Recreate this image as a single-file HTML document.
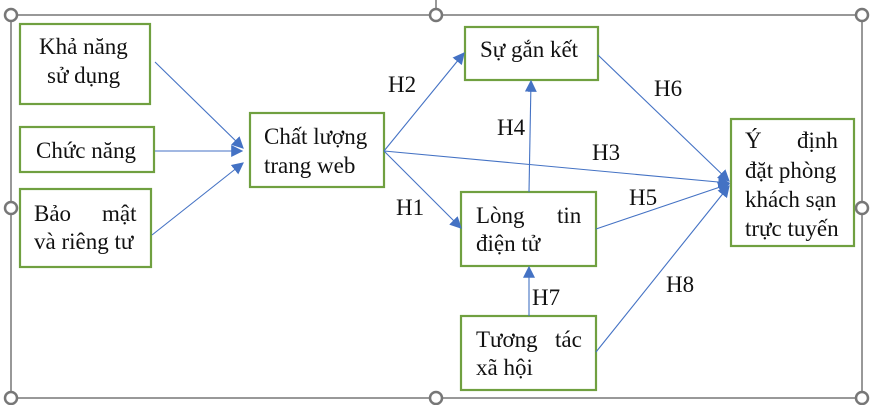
<!DOCTYPE html>
<html><head><meta charset="utf-8"><style>
body{margin:0;background:#fff;width:870px;height:405px;overflow:hidden}
svg{display:block}
text{font-family:"Liberation Serif",serif;font-size:23px;fill:#111}
.b{fill:#fff;stroke:#70a040;stroke-width:2.2}
.l{stroke:#4472c4;stroke-width:1.1;fill:none}
.h{fill:#fff;stroke:#777;stroke-width:2.5}
</style></head><body>
<svg width="870" height="405" viewBox="0 0 870 405">
<defs><marker id="a" viewBox="0 0 10 10" refX="9" refY="5" markerWidth="12" markerHeight="12" markerUnits="userSpaceOnUse" orient="auto"><path d="M0,0L10,5L0,10z" fill="#4472c4"/></marker></defs>
<line x1="436" y1="0" x2="436" y2="15" stroke="#777" stroke-width="1.5"/>
<rect x="11" y="15" width="851" height="383" fill="none" stroke="#777" stroke-width="1.5"/>
<rect class="b" x="20" y="24" width="130" height="80"/>
<rect class="b" x="20" y="127" width="134" height="45"/>
<rect class="b" x="20" y="189" width="131" height="78"/>
<rect class="b" x="250" y="113" width="134" height="74"/>
<rect class="b" x="465" y="27" width="133" height="53"/>
<rect class="b" x="461" y="192" width="135" height="74"/>
<rect class="b" x="461" y="316" width="135" height="74"/>
<rect class="b" x="731" y="119" width="123" height="127"/>
<g class="l">
<line x1="155" y1="62" x2="243" y2="148" marker-end="url(#a)"/>
<line x1="155" y1="151" x2="242" y2="151" marker-end="url(#a)"/>
<line x1="152" y1="235" x2="243" y2="163" marker-end="url(#a)"/>
<line x1="384" y1="151" x2="464" y2="53" marker-end="url(#a)"/>
<line x1="384" y1="151" x2="729" y2="183" marker-end="url(#a)"/>
<line x1="384" y1="151" x2="461" y2="228" marker-end="url(#a)"/>
<line x1="529" y1="192" x2="531" y2="81" marker-end="url(#a)"/>
<line x1="598" y1="55" x2="729" y2="181" marker-end="url(#a)"/>
<line x1="596" y1="229" x2="729" y2="184" marker-end="url(#a)"/>
<line x1="529" y1="316" x2="529" y2="267" marker-end="url(#a)"/>
<line x1="596" y1="352" x2="729" y2="186" marker-end="url(#a)"/>
</g>
<text x="39" y="54">Khả năng</text>
<text x="47" y="83">sử dụng</text>
<text x="36" y="158">Chức năng</text>
<text x="34" y="221">Bảo</text><text x="102" y="221">mật</text>
<text x="34" y="249">và riêng tư</text>
<text x="264" y="144">Chất lượng</text>
<text x="264" y="173">trang web</text>
<text x="480" y="57">Sự gắn kết</text>
<text x="476" y="223">Lòng</text><text x="557" y="223">tin</text>
<text x="476" y="251">điện tử</text>
<text x="476" y="347">Tương</text><text x="555" y="347">tác</text>
<text x="476" y="375">xã hội</text>
<text x="745" y="148">Ý</text><text x="797" y="148">định</text>
<text x="745" y="178">đặt phòng</text>
<text x="745" y="207">khách sạn</text>
<text x="745" y="236">trực tuyến</text>
<text x="388" y="92">H2</text>
<text x="396" y="215">H1</text>
<text x="497" y="135">H4</text>
<text x="592" y="160">H3</text>
<text x="654" y="96">H6</text>
<text x="629" y="205">H5</text>
<text x="532" y="305">H7</text>
<text x="666" y="292">H8</text>
<circle class="h" cx="11" cy="15" r="6"/><circle class="h" cx="436" cy="15" r="6"/><circle class="h" cx="862" cy="15" r="6"/>
<circle class="h" cx="11" cy="208" r="6"/><circle class="h" cx="862" cy="208" r="6"/>
<circle class="h" cx="11" cy="398" r="6"/><circle class="h" cx="436" cy="398" r="6"/><circle class="h" cx="862" cy="398" r="6"/>
</svg>
</body></html>
